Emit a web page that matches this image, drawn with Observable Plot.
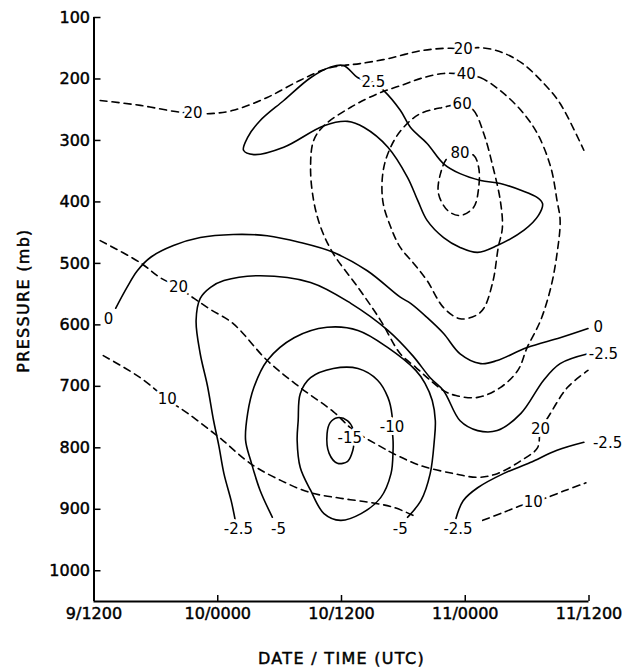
<!DOCTYPE html>
<html>
<head>
<meta charset="utf-8">
<script src="https://cdn.jsdelivr.net/npm/d3@7"></script>
<script src="https://cdn.jsdelivr.net/npm/@observablehq/plot@0.6"></script>
<style>
  body { margin: 0; background: #fff; }
  #chart svg { display: block; }
</style>
</head>
<body>
<div id="chart"></div>
<script>
// Time is in hours after 9/1200 UTC; pressure in mb.
const timeTicks = [0, 12, 24, 36, 48];
const timeTickLabels = ["9/1200", "10/0000", "10/1200", "11/0000", "11/1200"];
const pressureTicks = [100, 200, 300, 400, 500, 600, 700, 800, 900, 1000];

// Solid isopleths: [hour, pressure] along each line
const solid2p5 = [[27.1,206],[28.1,219],[29.7,251],[30.7,279],[32.3,305],[33.9,338],[35.5,354],[37.5,365],[39.4,370],[41.4,381],[43.0,393],[43.5,403],[43.1,422],[41.7,446],[39.1,471],[37.2,482],[35.5,474],[33.9,458],[32.3,430],[31.4,398],[30.4,360],[28.5,311],[26.2,279],[24.6,269],[22.3,276],[18.4,311],[15.5,323],[14.5,316],[14.9,295],[16.1,268],[18.4,235],[21.0,198],[22.9,181],[24.2,178],[25.6,198]];
const solid0 = [[2.1,573],[3.2,539],[4.2,512],[5.5,490],[7.7,471],[10.3,458],[13.5,453],[16.8,455],[20.0,466],[23.2,482],[26.5,512],[29.7,555],[30.7,565],[32.3,588],[33.9,614],[35.5,647],[37.5,663],[39.1,658],[42.0,637],[45.2,621],[47.9,606]];
const solidM2p5 = [[13.7,918],[13.3,886],[12.6,842],[12.1,796],[11.6,756],[11.0,699],[10.3,647],[9.9,593],[10.3,557],[11.3,539],[12.6,528],[16.1,520],[21.0,531],[24.9,565],[28.5,609],[30.9,650],[32.6,686],[33.9,707],[35.5,756],[37.2,772],[39.1,772],[41.4,744],[43.6,690],[45.2,663],[47.9,647]];
const solidM2p5b = [[35.1,915],[35.8,886],[37.2,865],[39.7,842],[42.3,824],[44.9,804],[47.5,791]];
const solidM5 = [[17.3,913],[16.1,869],[15.2,821],[14.7,788],[14.9,744],[15.5,702],[16.8,658],[19.4,621],[22.6,604],[25.6,609],[28.5,637],[31.2,674],[32.1,695],[32.8,723],[33.1,756],[33.0,788],[32.6,842],[31.7,886],[30.4,913]];
const solidM10 = [[28.9,767],[29.0,788],[29.0,804],[28.8,842],[27.8,881],[25.9,907],[23.9,918],[22.3,907],[21.0,869],[20.0,832],[19.7,788],[19.8,756],[20.0,712],[21.0,686],[23.2,671],[25.6,671],[27.5,690],[28.5,718],[28.9,747]];
const solidM15 = [[22.6,777],[22.9,759],[23.6,751],[24.6,756],[25.1,769],[25.2,791],[25.1,804],[24.6,822],[23.6,825],[22.8,809]];

// Dashed isopleths
const dashed20a = [[0.6,235],[4.5,243],[7.9,253],[9.6,256],[11.6,256],[13.5,251],[16.8,230],[20.0,202],[22.6,183],[24.2,178],[25.8,175],[28.5,167],[31.7,154],[34.6,150],[35.8,152],[37.2,149],[39.1,154],[41.4,173],[43.6,207],[45.2,240],[47.5,316]];
const dashed40 = [[36.1,193],[37.5,198],[39.4,219],[41.4,251],[43.0,289],[44.3,344],[44.9,398],[45.2,430],[44.9,484],[44.3,539],[43.3,593],[42.0,637],[41.1,674],[39.4,702],[37.2,718],[35.1,715],[33.9,707],[32.6,690],[31.2,669],[29.7,647],[27.8,593],[25.6,539],[23.2,484],[22.0,442],[21.3,398],[21.0,344],[21.3,300],[22.3,276],[24.9,246],[27.5,224],[29.7,211],[31.7,199],[33.9,191]];
const dashed60 = [[35.7,241],[36.8,251],[37.8,289],[38.7,344],[39.4,398],[39.6,442],[39.2,474],[38.7,528],[37.8,573],[37.0,585],[35.5,590],[33.9,572],[32.3,528],[31.0,500],[29.7,474],[28.8,442],[28.0,398],[28.1,344],[29.1,300],[30.4,272],[31.7,256],[33.9,246]];
const dashed80 = [[35.5,320],[36.8,324],[37.3,344],[37.3,377],[36.8,409],[35.5,422],[34.3,414],[33.4,386],[33.6,354],[34.3,328]];
const dashed20b = [[0.6,463],[4.5,499],[6.4,523],[8.2,539],[9.7,557],[11.3,575],[13.5,598],[16.8,658],[20.0,702],[23.2,741],[25.2,772],[27.8,798],[29.1,810],[31.7,829],[34.9,842],[37.2,848],[39.1,842],[41.4,821],[43.0,800],[43.3,769],[44.0,751],[45.9,702],[47.9,674]];
const dashed10a = [[0.9,650],[4.5,686],[7.1,721],[9.1,744],[11.3,772],[12.3,785],[15.2,826],[18.1,853],[21.0,873],[23.9,882],[26.8,889],[29.1,897],[31.2,912]];
const dashed10b = [[37.7,918],[39.7,905],[41.4,894],[42.6,888],[43.6,883],[45.6,870],[47.7,857]];

// Where each line carries its value label
const labels2p5 = [[27.1,206]];
const labels0 = [[1.4,590],[48.9,604]];
const labelsM2p5 = [[14.0,933],[49.4,647]];
const labelsM2p5b = [[35.3,933],[49.8,793]];
const labelsM5 = [[17.9,933],[29.7,933]];
const labelsM10 = [[28.9,767]];
const labelsM15 = [[24.8,784]];
const labels20a = [[9.6,256],[35.8,152]];
const labels40 = [[36.1,193]];
const labels60 = [[35.7,241]];
const labels80 = [[35.5,320]];
const labels20b = [[8.2,539],[43.3,769]];
const labels10a = [[7.1,721]];
const labels10b = [[42.6,888]];

const isopleths = [
  {value: 2.5, dashed: false, closed: true, points: solid2p5, labels: labels2p5},
  {value: 0, dashed: false, closed: false, points: solid0, labels: labels0},
  {value: -2.5, dashed: false, closed: false, points: solidM2p5, labels: labelsM2p5},
  {value: -2.5, dashed: false, closed: false, points: solidM2p5b, labels: labelsM2p5b},
  {value: -5, dashed: false, closed: false, points: solidM5, labels: labelsM5},
  {value: -10, dashed: false, closed: true, points: solidM10, labels: labelsM10},
  {value: -15, dashed: false, closed: true, points: solidM15, labels: labelsM15},
  {value: 20, dashed: true, closed: false, points: dashed20a, labels: labels20a},
  {value: 40, dashed: true, closed: true, points: dashed40, labels: labels40},
  {value: 60, dashed: true, closed: true, points: dashed60, labels: labels60},
  {value: 80, dashed: true, closed: true, points: dashed80, labels: labels80},
  {value: 20, dashed: true, closed: false, points: dashed20b, labels: labels20b},
  {value: 10, dashed: true, closed: false, points: dashed10a, labels: labels10a},
  {value: 10, dashed: true, closed: false, points: dashed10b, labels: labels10b}
];

const font = "DejaVu Sans";

const lineMarks = isopleths.map(c => Plot.line(c.points, {
  x: d => d[0],
  y: d => d[1],
  curve: c.closed ? "catmull-rom-closed" : "catmull-rom",
  stroke: "black",
  strokeWidth: 1.6,
  strokeDasharray: c.dashed ? "7,5" : undefined
}));

const labelRows = isopleths.flatMap(c => c.labels.map(([h, p]) => ({h, p, text: String(c.value)})));

const chart = Plot.plot({
  width: 630,
  height: 671,
  marginLeft: 93.5,
  marginRight: 41.5,
  marginTop: 17,
  marginBottom: 70,
  style: {fontFamily: font, fontSize: "16px", color: "black", background: "white"},
  x: {domain: [0, 48]},
  y: {domain: [100, 1050], reverse: true},
  marks: [
    ...lineMarks,
    Plot.text(labelRows, {
      x: "h", y: "p", text: "text",
      fill: "black", stroke: "white", strokeWidth: 6, paintOrder: "stroke",
      fontSize: 15, fontFamily: font
    }),
    Plot.ruleX([0], {strokeWidth: 2}),
    Plot.ruleY([1050], {strokeWidth: 2}),
    // inward ticks on both axes
    Plot.tickX(timeTicks.slice(1), {x: d => d, strokeWidth: 1.5, insetTop: 578}),
    Plot.tickY(pressureTicks, {y: d => d, strokeWidth: 1.5, insetRight: 488}),
    Plot.axisY({ticks: pressureTicks, tickFormat: d => String(d), tickSize: 0, tickPadding: 4, label: null, fontSize: 16}),
    Plot.axisX({ticks: timeTicks, tickFormat: d => timeTickLabels[timeTicks.indexOf(d)], tickSize: 0, tickPadding: 6, label: null, fontSize: 16}),
    Plot.text(["DATE / TIME (UTC)"], {frameAnchor: "bottom", dy: 62, fontSize: 16, fontFamily: font}),
    Plot.text(["PRESSURE (mb)"], {frameAnchor: "left", textAnchor: "middle", dx: -70, dy: -9, rotate: -90, fontSize: 16, fontFamily: font})
  ]
});

// slightly heavier lettering for axis text
const svg = d3.select(chart);
svg.selectAll('g[aria-label="y-axis tick label"] text, g[aria-label="x-axis tick label"] text')
  .style("stroke", "black").style("stroke-width", "0.45px");
svg.selectAll("text")
  .filter(function() { return this.textContent === "DATE / TIME (UTC)" || this.textContent === "PRESSURE (mb)"; })
  .style("letter-spacing", "1.3px").style("stroke", "black").style("stroke-width", "0.45px");

document.getElementById("chart").appendChild(chart);
</script>
</body>
</html>
